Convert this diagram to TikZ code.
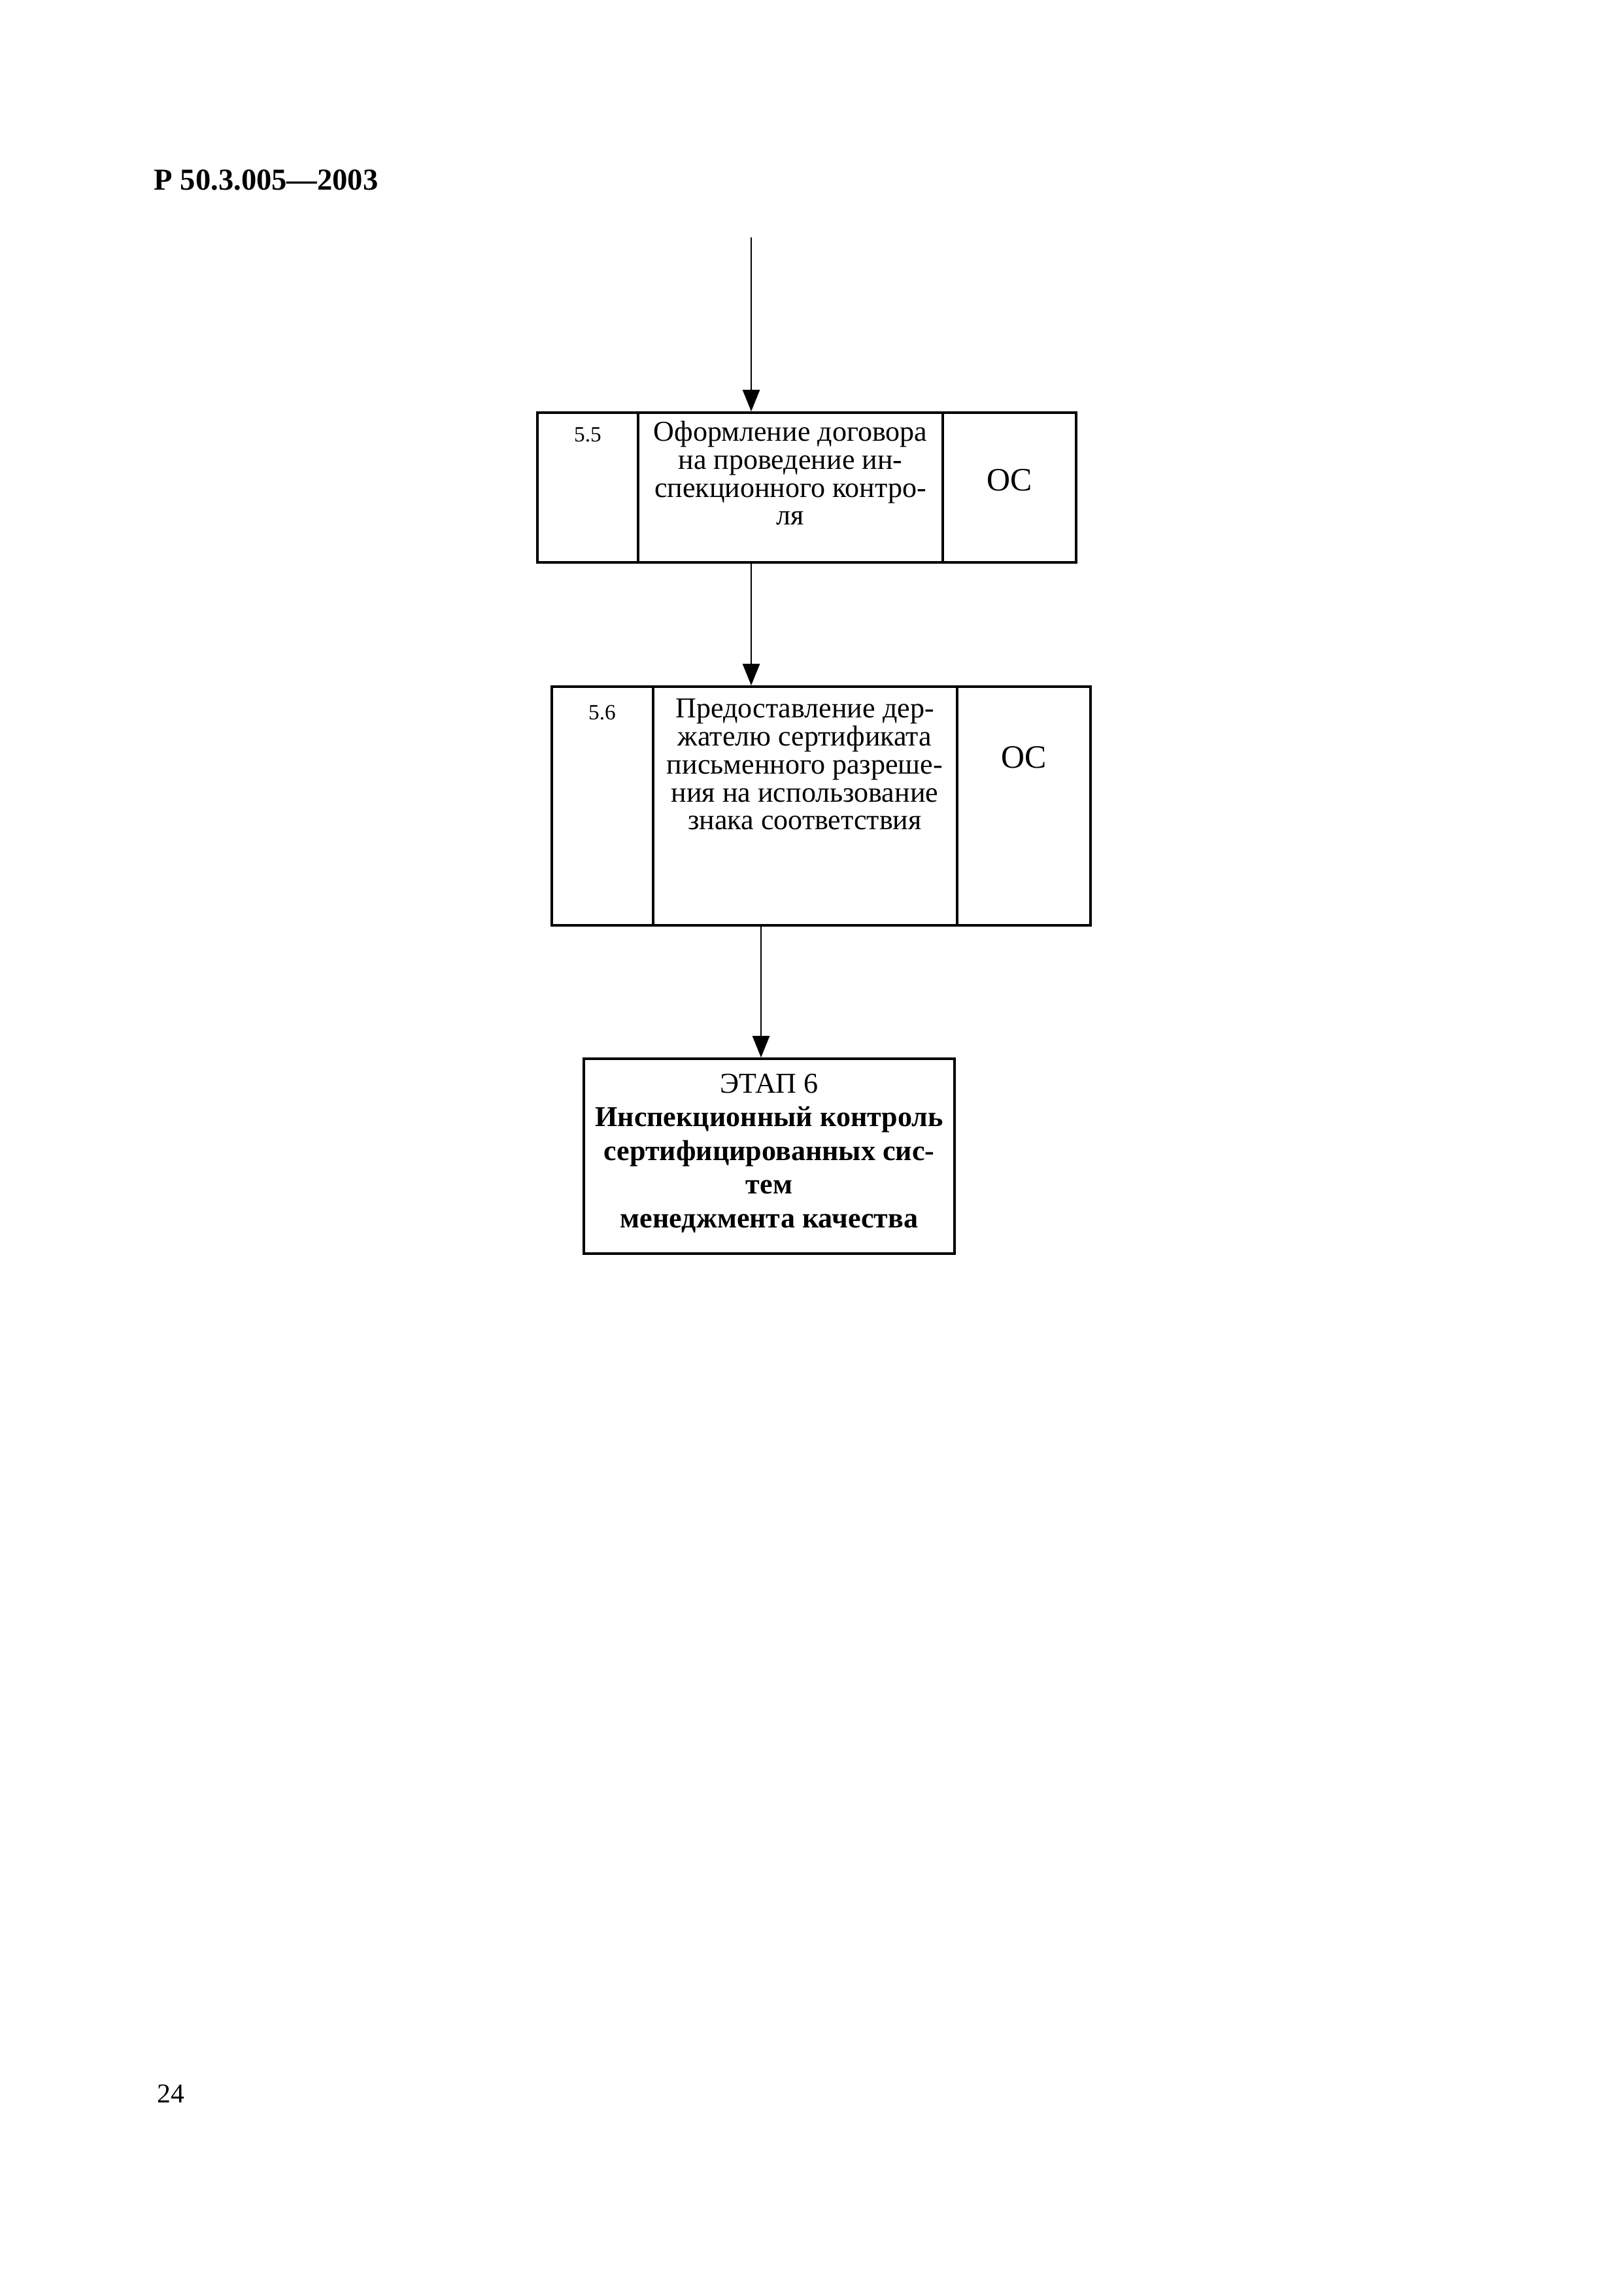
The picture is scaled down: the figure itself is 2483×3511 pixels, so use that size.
\documentclass[tikz,border=0pt]{standalone}
\usepackage{fontspec}
\setmainfont{Liberation Serif}
\usetikzlibrary{arrows.meta}
\newcommand{\pxu}{0.08457mm}
\begin{document}
\begin{tikzpicture}[x=0.08457mm, y=-0.08457mm,
  boxline/.style={draw=black, line width=0.9pt},
  frame/.style={boxline, rectangle, inner sep=0pt},
  arr/.style={draw=black, line width=0.7pt, -{Triangle[length=2.8mm, width=2.2mm]}},
  divline/.style={draw=black, line width=0.8pt},
  txt/.style={inner sep=0pt, align=center, font={\fontsize{10.6}{10.3}\selectfont}},
  numtxt/.style={inner sep=0pt, font={\fontsize{8}{9}\selectfont}},
  ostxt/.style={inner sep=0pt, font={\fontsize{12}{13}\selectfont}}
]
\useasboundingbox (0,0) rectangle (2483,3511);

% header and page number
\node[anchor=west, inner sep=0pt, font={\fontsize{11.2}{13}\selectfont\bfseries}] (hdr) at (235,275) {Р 50.3.005—2003};
\node[anchor=west, inner sep=0pt, font={\fontsize{10}{11}\selectfont}] (pnum) at (240,3202) {24};

% box 1
\node[frame, minimum width=824*\pxu, minimum height=229*\pxu] (box1) at (1234,745.5) {};
\draw[divline] (976,0 |- box1.north) -- (976,0 |- box1.south);
\draw[divline] (1442,0 |- box1.north) -- (1442,0 |- box1.south);
\node[numtxt] (n1) at (899,665) {5.5};
\node[txt, anchor=north] (t1) at (1209,643) {Оформление договора\\на проведение ин-\\спекционного контро-\\ля};
\node[ostxt] (os1) at (1544,734) {ОС};

% box 2
\node[frame, minimum width=824*\pxu, minimum height=365*\pxu] (box2) at (1256,1232.5) {};
\draw[divline] (999,0 |- box2.north) -- (999,0 |- box2.south);
\draw[divline] (1464,0 |- box2.north) -- (1464,0 |- box2.south);
\node[numtxt] (n2) at (921,1090) {5.6};
\node[txt, anchor=north] (t2) at (1231,1068) {Предоставление дер-\\жателю сертификата\\письменного разреше-\\ния на использование\\знака соответствия};
\node[ostxt] (os2) at (1566,1158) {ОС};

% box 3
\node[frame, minimum width=567*\pxu, minimum height=298*\pxu] (box3) at (1176.5,1768) {};
\node[txt, anchor=north, font={\fontsize{10.6}{12.4}\selectfont}] (t3) at (1176.5,1641)
  {ЭТАП 6\\\textbf{Инспекционный контроль}\\\textbf{сертифицированных сис-}\\\textbf{тем}\\\textbf{менеджмента качества}};

% connectors
\coordinate (c1) at (1149,363);
\coordinate (c3) at (1164,1415);
\draw[arr] (c1) -- (c1 |- box1.north);
\draw[arr] (c1 |- box1.south) -- (c1 |- box2.north);
\draw[arr] (c3 |- box2.south) -- (c3 |- box3.north);
\end{tikzpicture}
\end{document}
